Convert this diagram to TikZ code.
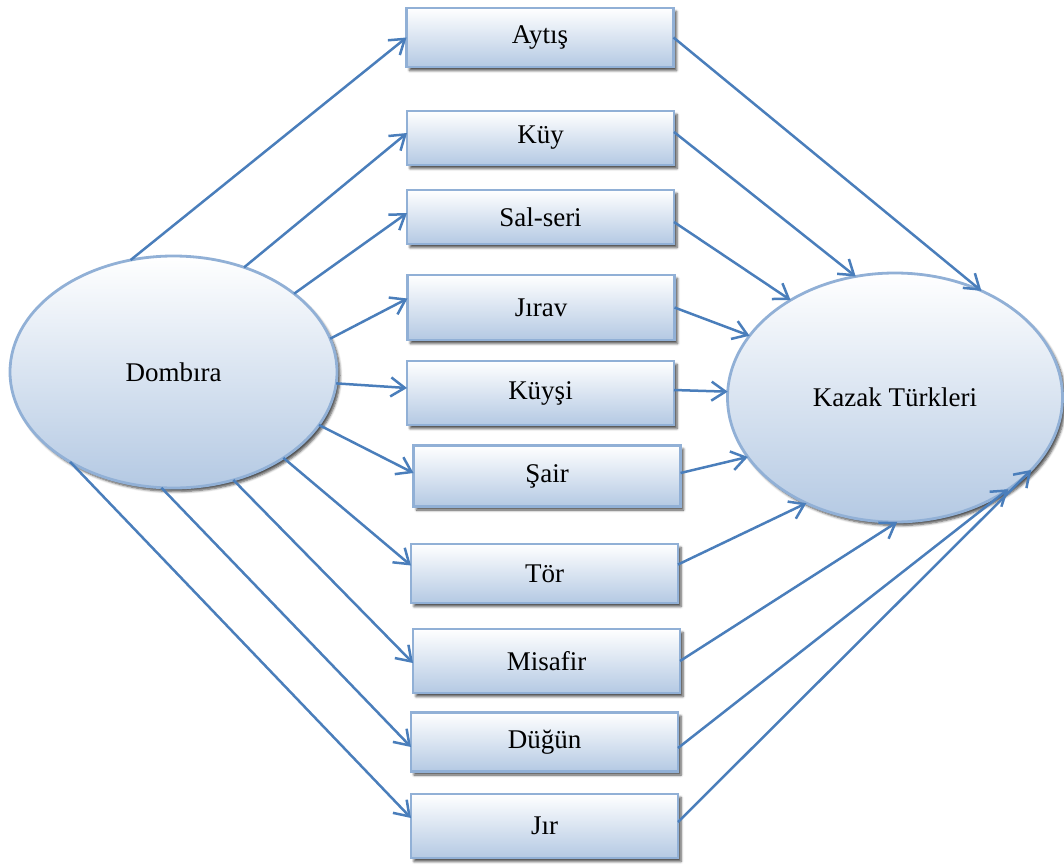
\documentclass[tikz,border=0pt]{standalone}
\usepackage{fontspec}
\setmainfont{Liberation Serif}
\usetikzlibrary{shapes.geometric,arrows.meta,shadows.blur}
\definecolor{edgeblue}{RGB}{145,176,214}
\definecolor{fillblue}{RGB}{180,201,227}
\definecolor{arrowblue}{RGB}{74,126,187}
\begin{document}
\begin{tikzpicture}[x=1pt,y=-1pt,
  softshadow/.style={blur shadow={shadow xshift=3pt, shadow yshift=-3.5pt,
      shadow opacity=70, shadow blur steps=5, shadow blur radius=2.5pt}},
  card/.style={rectangle, draw=edgeblue, line width=2.8pt,
      top color=white, bottom color=fillblue,
      minimum width=267pt, inner sep=0pt, outer sep=0pt,
      font=\fontsize{27}{32}\selectfont, softshadow},
  oval/.style={ellipse, draw=edgeblue, line width=2.8pt,
      top color=white, bottom color=fillblue,
      inner sep=0pt, outer sep=0pt,
      font=\fontsize{27}{32}\selectfont, softshadow},
  link/.style={draw=arrowblue, line width=2.5pt,
      -{Straight Barb[length=14pt,width=19pt]}}]
\useasboundingbox (0,0) rectangle (1064,864);

% the two ellipses
\node[oval, minimum width=327pt, minimum height=232pt] (dom) at (173.5,372) {Dombıra};
\node[oval, minimum width=335pt, minimum height=249pt] (kaz) at (895,397.5) {Kazak Türkleri};

% the middle column of boxes
\node[card, minimum height=59pt] (ayt)  at (540,37.5)  {Aytış};
\node[card, minimum height=54pt] (kuy)  at (540.5,138) {Küy};
\node[card, minimum height=54pt] (sal)  at (540.5,217) {Sal-seri};
\node[card, minimum height=65pt] (jrv)  at (541,307.5) {Jırav};
\node[card, minimum height=64pt] (kys)  at (540.5,393) {Küyşi};
\node[card, minimum height=61pt] (sair) at (547,476)   {Şair};
\node[card, minimum height=59pt] (tor)  at (544.5,573.5){Tör};
\node[card, minimum height=64pt] (mis)  at (546.5,661) {Misafir};
\node[card, minimum height=59pt] (dug)  at (544.5,742) {Düğün};
\node[card, minimum height=64pt] (jr)   at (544.5,826) {Jır};

% Dombıra -> boxes
\draw[link] (dom.111) -- (ayt.west);
\draw[link] (dom.56)  -- ([yshift=5pt]kuy.west);
\draw[link] (dom.33)  -- ([yshift=4pt]sal.west);
\draw[link] (dom.12)  -- ([yshift=9pt]jrv.west);
\draw[link] (dom.-4.5)-- ([yshift=5pt]kys.west);
\draw[link] (dom.-20) -- ([yshift=3pt]sair.west);
\draw[link] (dom.-38) -- ([yshift=8pt]tor.west);
\draw[link] (dom.-61) -- ([yshift=-2pt]mis.west);
\draw[link] (dom.-96) -- ([yshift=-5pt]dug.west);
\draw[link] (dom.221) -- ([yshift=8pt]jr.west);

% boxes -> Kazak Türkleri
\draw[link] (ayt.east) -- (kaz.51.8);
\draw[link] ([yshift=6pt]kuy.east) -- (kaz.108.5);
\draw[link] ([yshift=-5pt]sal.east) -- (kaz.137);
\draw[link] (jrv.east) -- (kaz.157);
\draw[link] ([yshift=3pt]kys.east) -- (kaz.178);
\draw[link] ([yshift=3pt]sair.east) -- (kaz.202);
\draw[link] ([yshift=9pt]tor.east) -- (kaz.230);
\draw[link] (mis.east) -- (kaz.271);
\draw[link] ([yshift=-6pt]dug.east) -- (kaz.321);
\draw[link] ([yshift=4pt]jr.east) -- (kaz.332);
\end{tikzpicture}
\end{document}
